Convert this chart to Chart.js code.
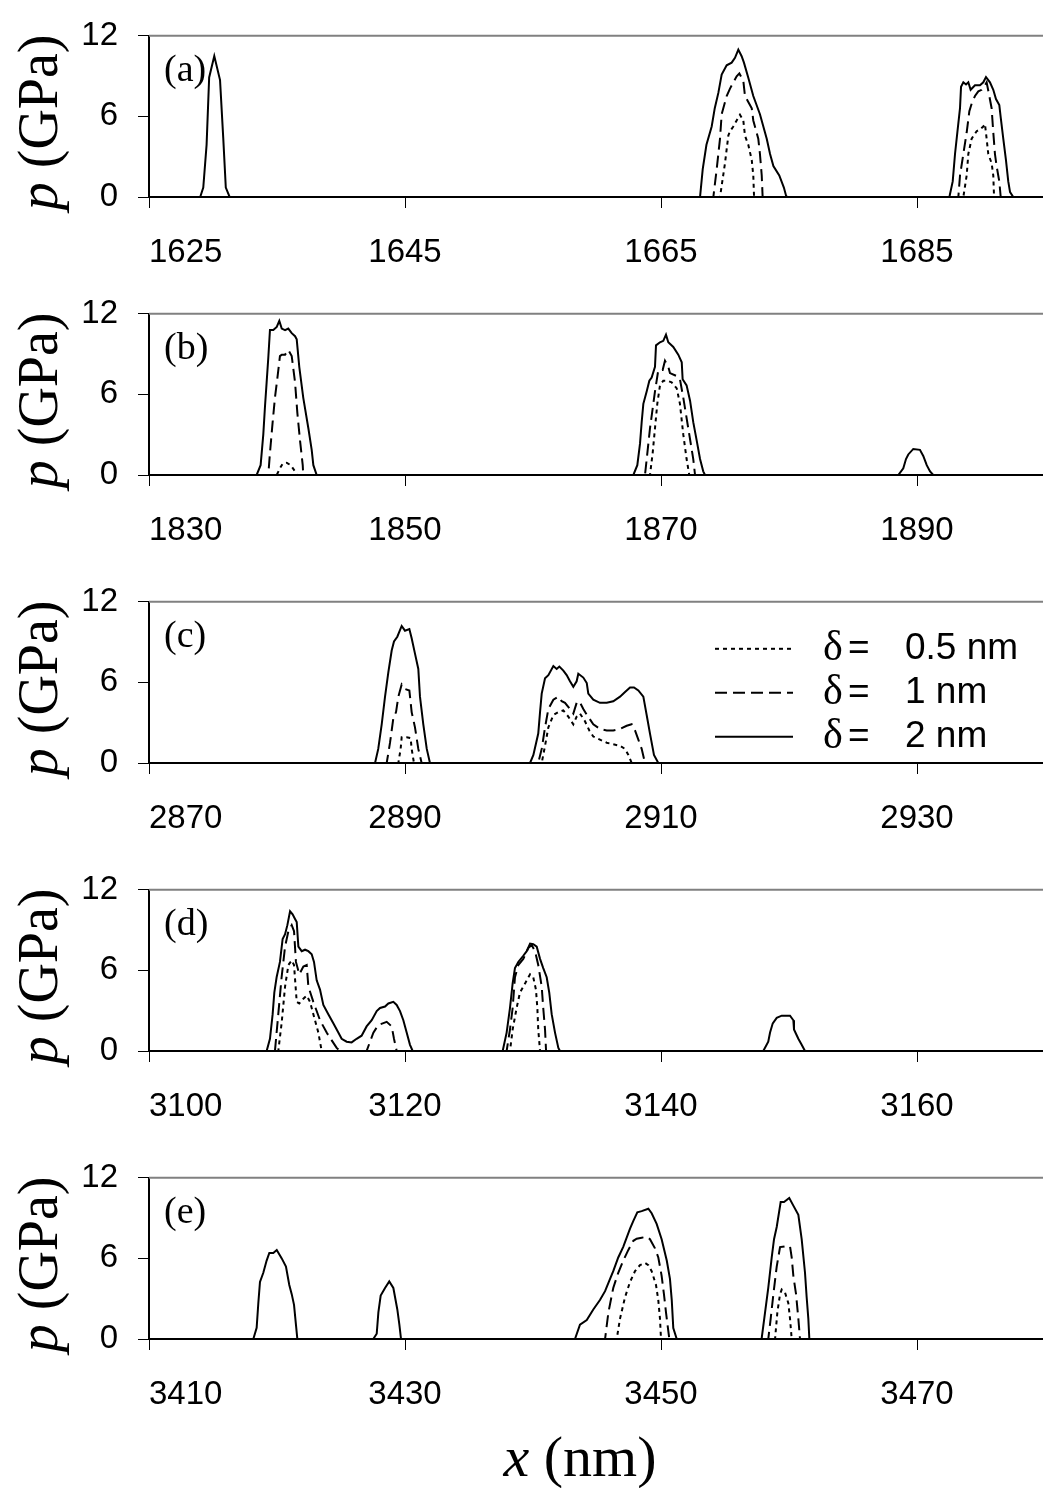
<!DOCTYPE html>
<html>
<head>
<meta charset="utf-8">
<script src="https://cdn.jsdelivr.net/npm/chart.js@4.4.1/dist/chart.umd.min.js"></script>
<style>
    html, body { margin: 0; padding: 0; background: #fff; }
    body { width: 1043px; height: 1488px; position: relative; overflow: hidden; }
    canvas.painel { position: absolute; left: 0; }
    #tituloX {
        position: absolute; left: 380px; width: 400px; top: 1428px; text-align: center;
        font: 58px/58px "Liberation Serif", "Times New Roman", serif; color: #000;
    }
</style>
</head>
<body>
<canvas id="graficoA" class="painel"></canvas>
<canvas id="graficoB" class="painel"></canvas>
<canvas id="graficoC" class="painel"></canvas>
<canvas id="graficoD" class="painel"></canvas>
<canvas id="graficoE" class="painel"></canvas>
<div id="tituloX"><i>x</i> (nm)</div>
<script>
// Perfis de pressão p(x) em cinco janelas de x, para três valores de delta.

// --- Dados ---
const ticksY = [0, 6, 12];
const rotulosDelta = ['0.5 nm', '1 nm', '2 nm'];

// (a)
const ticksA = [1625, 1645, 1665, 1685];
const xA_05 = [1625, 1669.61, 1670.0, 1670.26, 1670.39, 1670.65, 1670.91, 1671.17, 1671.43, 1671.56, 1671.82, 1672.09, 1672.21, 1672.27,
    1688.62, 1688.88, 1689.01, 1689.27, 1689.66, 1689.92, 1690.18, 1690.31, 1690.44, 1690.57, 1690.83, 1690.96, 1691.02, 1695];
const pA_05 = [0, 0, 2.52, 4.57, 4.9, 5.25, 5.7, 6.12, 5.7, 4.57, 3.89, 2.75, 1.6, 0,
    0, 1.6, 3.2, 4.34, 4.9, 5.02, 5.25, 5.43, 4.34, 3.2, 2.52, 1.6, 0, 0];
const xA_1 = [1625, 1669.09, 1669.35, 1669.61, 1669.74, 1670.13, 1670.39, 1670.65, 1670.91, 1671.12, 1671.43, 1671.56, 1671.82, 1672.09, 1672.21, 1672.6, 1672.73, 1672.87, 1672.94,
    1688.23, 1688.36, 1688.62, 1688.88, 1689.09, 1689.27, 1689.53, 1689.79, 1690.05, 1690.31, 1690.44, 1690.65, 1690.83, 1690.96, 1691.09, 1691.22, 1691.43, 1691.54, 1695];
const pA_1 = [0, 0, 2.07, 4.34, 6.16, 7.52, 8.07, 8.52, 8.98, 9.2, 8.66, 7.52, 7.07, 6.61, 5.7, 4.34, 3.2, 1.6, 0,
    0, 1.6, 3.2, 4.8, 6.39, 6.95, 7.52, 7.86, 7.98, 8.32, 8.54, 7.52, 6.61, 4.8, 3.2, 2.3, 1.16, 0, 0];
const xA_2 = [1625, 1629.0, 1629.24, 1629.5, 1629.7, 1630.1, 1630.55, 1630.8, 1631.0, 1631.3,
    1668.05, 1668.26, 1668.55, 1668.96, 1669.2, 1669.48, 1669.74, 1670.13, 1670.52, 1670.78, 1671.04, 1671.3, 1671.48, 1671.82, 1672.21, 1672.73, 1673.26, 1673.52, 1673.78, 1674.24, 1674.6, 1674.77, 1674.85,
    1687.53, 1687.79, 1687.97, 1688.15, 1688.36, 1688.44, 1688.62, 1688.83, 1689.01, 1689.19, 1689.53, 1689.92, 1690.18, 1690.39, 1690.7, 1690.96, 1691.17, 1691.43, 1691.54, 1691.74, 1691.95, 1692.13, 1692.27, 1692.52, 1695];
const pA_2 = [0, 0, 0.7, 3.9, 8.9, 10.5, 8.7, 4.4, 0.7, 0,
    0, 2.07, 3.89, 5.25, 6.61, 7.75, 9.11, 9.8, 10.0, 10.36, 10.97, 10.48, 10.0, 8.88, 7.52, 6.16, 4.34, 3.2, 2.3, 1.6, 0.7, 0.1, 0,
    0, 1.16, 3.2, 4.8, 6.61, 8.2, 8.54, 8.38, 8.54, 7.98, 8.32, 8.32, 8.54, 8.93, 8.54, 7.98, 7.29, 6.84, 5.93, 4.34, 2.75, 1.16, 0.36, 0, 0];

// (b)
const ticksB = [1830, 1850, 1870, 1890];
const xB_05 = [1830, 1839.98, 1840.23, 1840.44, 1840.76, 1841.07, 1841.41, 1841.54,
    1869.14, 1869.35, 1869.53, 1869.71, 1869.92, 1870.18, 1870.49, 1870.83, 1871.23, 1871.48, 1871.74, 1872.0, 1872.21, 1900];
const pB_05 = [0, 0, 0.5, 0.84, 0.91, 0.73, 0.27, 0,
    0, 1.65, 3.48, 5.3, 6.67, 7.02, 7.02, 6.9, 6.45, 5.3, 3.02, 1.19, 0, 0];
const xB_1 = [1830, 1839.32, 1839.45, 1839.66, 1839.84, 1840.02, 1840.23, 1840.37, 1840.63, 1840.88, 1841.15, 1841.41, 1841.59, 1841.8, 1842.01, 1842.05,
    1868.75, 1869.14, 1869.53, 1869.79, 1870.13, 1870.31, 1870.57, 1870.7, 1871.23, 1871.48, 1871.74, 1872.13, 1872.52, 1872.66, 1900];
const pB_1 = [0, 0, 1.65, 3.93, 5.76, 7.13, 8.85, 8.96, 8.96, 9.31, 8.85, 6.9, 4.62, 2.56, 0.73, 0,
    0, 3.48, 6.22, 7.82, 7.82, 8.5, 8.05, 7.59, 7.36, 7.13, 5.76, 3.48, 1.19, 0, 0];
const xB_2 = [1830, 1838.41, 1838.72, 1838.93, 1839.06, 1839.19, 1839.32, 1839.45, 1839.71, 1839.98, 1840.18, 1840.37, 1840.63, 1840.88, 1841.15, 1841.41, 1841.54, 1841.74, 1842.05, 1842.45, 1842.71, 1842.84, 1843.1,
    1867.84, 1868.15, 1868.36, 1868.49, 1868.62, 1868.88, 1869.09, 1869.27, 1869.53, 1869.61, 1869.92, 1870.18, 1870.39, 1870.57, 1870.96, 1871.35, 1871.62, 1871.69, 1872.0, 1872.27, 1872.52, 1872.79, 1873.05, 1873.3, 1873.44,
    1888.54, 1888.93, 1889.14, 1889.32, 1889.71, 1890.23, 1890.49, 1890.76, 1891.02, 1891.27, 1900];
const pB_2 = [0, 0, 0.73, 3.02, 5.08, 6.9, 8.73, 10.79, 10.79, 11.02, 11.47, 10.9, 10.79, 10.9, 10.56, 10.33, 10.1, 8.05, 5.76, 3.48, 1.87, 0.73, 0,
    0, 0.73, 2.33, 3.93, 5.3, 6.22, 7.02, 7.25, 8.05, 9.65, 9.88, 9.99, 10.45, 9.88, 9.53, 8.96, 8.39, 7.13, 6.67, 5.53, 3.93, 2.56, 1.19, 0.27, 0,
    0, 0.5, 1.19, 1.53, 1.94, 1.87, 1.42, 0.73, 0.27, 0, 0];

// (c)
const ticksC = [2870, 2890, 2910, 2930];
const xC_05 = [2870, 2889.48, 2889.66, 2889.74, 2890.13, 2890.44, 2890.52, 2890.7,
    2900.68, 2900.94, 2901.2, 2901.59, 2901.98, 2902.37, 2902.76, 2903.15, 2903.41, 2903.67, 2904.06, 2904.4, 2904.71, 2905.23, 2905.76, 2906.27, 2906.8, 2907.19, 2907.45, 2907.71, 2940];
const pC_05 = [0, 0, 1.05, 1.92, 1.92, 1.85, 1.05, 0,
    0, 1.28, 2.65, 3.57, 3.79, 3.91, 3.45, 2.88, 3.45, 3.68, 3.11, 2.42, 1.97, 1.74, 1.51, 1.39, 1.28, 1.05, 0.6, 0, 0];
const xC_1 = [2870, 2888.57, 2888.83, 2889.09, 2889.3, 2889.48, 2889.74, 2890.0, 2890.34, 2890.52, 2890.78, 2891.04, 2891.3,
    2900.41, 2900.68, 2900.94, 2901.2, 2901.59, 2901.98, 2902.24, 2902.5, 2902.89, 2903.15, 2903.41, 2903.62, 2903.93, 2904.2, 2904.71, 2905.23, 2905.76, 2906.27, 2906.8, 2907.32, 2907.71, 2907.97, 2908.23, 2908.49, 2908.75, 2940];
const pC_1 = [0, 0, 1.51, 3.34, 3.79, 4.94, 5.85, 5.51, 5.4, 3.79, 2.65, 1.05, 0,
    0, 1.05, 2.65, 4.02, 4.71, 4.94, 4.6, 4.48, 4.02, 3.68, 4.48, 4.6, 4.02, 3.6, 2.88, 2.54, 2.42, 2.42, 2.54, 2.77, 2.88, 2.42, 1.74, 1.05, 0, 0];
const xC_2 = [2870, 2887.66, 2887.91, 2888.18, 2888.44, 2888.7, 2888.96, 2889.14, 2889.4, 2889.74, 2890.0, 2890.34, 2890.52, 2890.78, 2891.04, 2891.17, 2891.43, 2891.7, 2891.95,
    2899.77, 2900.03, 2900.41, 2900.55, 2900.68, 2900.94, 2901.2, 2901.59, 2901.85, 2902.06, 2902.37, 2902.63, 2902.89, 2903.15, 2903.41, 2903.54, 2903.93, 2904.2, 2904.32, 2904.71, 2905.23, 2905.76, 2906.27, 2906.8, 2907.19, 2907.58, 2907.89, 2908.23, 2908.62, 2908.88, 2909.14, 2909.45, 2909.79, 2940];
const pC_2 = [0, 0, 1.05, 2.88, 4.94, 6.77, 8.37, 9.05, 9.4, 10.2, 9.85, 9.97, 9.28, 8.14, 7.0, 4.94, 2.88, 1.05, 0,
    0, 0.6, 2.19, 3.79, 5.17, 6.31, 6.54, 7.22, 7.0, 7.18, 6.88, 6.54, 6.08, 5.67, 6.08, 6.65, 6.36, 5.95, 5.17, 4.71, 4.48, 4.48, 4.6, 4.94, 5.28, 5.62, 5.62, 5.4, 4.94, 3.57, 2.19, 0.6, 0, 0];

// (d)
const ticksD = [3100, 3120, 3140, 3160];
const xD_05 = [3100, 3110.1, 3110.36, 3110.63, 3110.89, 3111.15, 3111.33, 3111.54, 3111.74, 3112.06, 3112.32, 3112.58, 3112.84, 3113.23, 3113.49,
    3128.2, 3128.41, 3128.72, 3128.98, 3129.38, 3129.77, 3130.02, 3130.23, 3130.34, 3130.41, 3130.55, 3170];
const pD_05 = [0, 0, 2.06, 4.8, 6.4, 6.74, 6.4, 3.66, 3.54, 3.89, 4.12, 3.66, 2.74, 1.37, 0,
    0, 1.6, 3.2, 4.34, 5.03, 5.71, 5.49, 4.57, 3.2, 1.6, 0, 0];
const xD_1 = [3100, 3109.84, 3110.1, 3110.36, 3110.63, 3110.89, 3111.15, 3111.33, 3111.48, 3111.74, 3112.06, 3112.32, 3112.45, 3112.84, 3113.36, 3113.88, 3114.66, 3114.92,
    3117.0, 3117.53, 3117.92, 3118.57, 3118.96, 3119.14, 3119.35,
    3127.94, 3128.2, 3128.41, 3128.59, 3128.85, 3129.24, 3129.63, 3129.9, 3130.16, 3130.41, 3130.68, 3130.8, 3130.94, 3131.02, 3170];
const pD_1 = [0, 0, 2.74, 5.49, 7.77, 8.92, 9.37, 8.92, 6.63, 5.71, 6.29, 6.4, 4.8, 3.66, 2.29, 1.37, 0.23, 0,
    0, 1.37, 1.94, 2.17, 1.83, 0.91, 0,
    0, 1.6, 3.2, 5.49, 6.4, 6.86, 7.66, 7.89, 7.43, 6.4, 4.8, 3.2, 1.6, 0, 0];
const xD_2 = [3100, 3109.19, 3109.45, 3109.66, 3109.79, 3109.97, 3110.23, 3110.44, 3110.63, 3110.81, 3111.02, 3111.22, 3111.41, 3111.54, 3111.67, 3111.93, 3112.19, 3112.45, 3112.71, 3112.89,
    3113.1, 3113.36, 3113.62, 3114.01, 3114.4, 3114.79, 3115.05, 3115.44, 3115.83, 3116.22, 3116.61, 3117.0, 3117.4, 3117.79, 3118.05, 3118.44, 3118.7, 3119.09, 3119.35, 3119.61, 3119.87, 3120.13, 3120.39, 3120.6,
    3127.63, 3127.94, 3128.2, 3128.41, 3128.59, 3128.85, 3129.24, 3129.51, 3129.77, 3130.02, 3130.29, 3130.55, 3130.8, 3131.07, 3131.27, 3131.46, 3131.72, 3131.98, 3132.11,
    3147.99, 3148.38, 3148.52, 3148.73, 3149.04, 3149.43, 3150.08, 3150.34, 3150.39, 3150.73, 3150.99, 3151.25, 3170];
const pD_2 = [0, 0, 0.91, 2.74, 4.34, 5.49, 6.63, 8.34, 8.69, 9.37, 10.4, 10.17, 9.83, 9.6, 7.77, 7.43, 7.54, 7.43, 7.2, 6.63,
    5.26, 4.57, 3.43, 2.74, 2.06, 1.37, 0.91, 0.69, 0.64, 0.91, 1.14, 1.83, 2.29, 2.97, 3.2, 3.31, 3.54, 3.66, 3.43, 2.97, 2.29, 1.37, 0.46, 0,
    0, 1.37, 3.2, 5.03, 6.17, 6.63, 7.09, 7.43, 8.0, 7.95, 7.77, 6.86, 6.17, 5.49, 4.34, 2.74, 1.37, 0.23, 0,
    0, 0.69, 1.37, 2.06, 2.47, 2.63, 2.63, 2.29, 1.6, 0.91, 0.46, 0, 0];

// (e)
const ticksE = [3410, 3430, 3450, 3470];
const xE_05 = [3410, 3446.54, 3446.8, 3447.19, 3447.58, 3447.97, 3448.36, 3448.75, 3449.01, 3449.27, 3449.61, 3449.79, 3449.92, 3450.0,
    3458.91, 3459.09, 3459.3, 3459.43, 3459.69, 3459.95, 3460.08, 3460.21, 3480];
const pE_05 = [0, 0, 1.52, 3.11, 4.25, 5.05, 5.5, 5.66, 5.5, 5.05, 4.02, 2.88, 1.52, 0,
    0, 1.98, 3.34, 3.68, 3.45, 2.66, 1.52, 0, 0];
const xE_1 = [3410, 3445.63, 3445.89, 3446.27, 3446.66, 3447.05, 3447.45, 3447.84, 3448.1, 3448.49, 3448.88, 3449.14, 3449.53, 3449.79, 3450.05, 3450.23, 3450.39, 3450.57, 3450.65,
    3458.38, 3458.57, 3458.78, 3459.04, 3459.3, 3459.69, 3460.08, 3460.21, 3460.34, 3460.55, 3460.73, 3460.86, 3480];
const pE_1 = [0, 0, 1.98, 3.8, 4.93, 5.84, 6.63, 7.31, 7.47, 7.54, 7.61, 7.43, 6.75, 6.07, 4.7, 3.34, 1.98, 0.61, 0,
    0, 1.52, 3.34, 5.39, 6.84, 6.9, 6.9, 6.07, 4.7, 3.34, 1.52, 0, 0];
const xE_2 = [3410, 3418.15, 3418.41, 3418.54, 3418.67, 3418.93, 3419.19, 3419.4, 3419.71, 3419.98, 3420.37, 3420.7, 3420.96, 3421.15, 3421.33, 3421.48, 3421.59,
    3427.52, 3427.79, 3427.92, 3428.1, 3428.44, 3428.77, 3429.09, 3429.4, 3429.56, 3429.69,
    3443.28, 3443.67, 3444.2, 3444.71, 3445.23, 3445.63, 3446.02, 3446.27, 3446.66, 3447.05, 3447.58, 3447.84, 3448.15, 3448.49, 3449.01, 3449.27, 3449.66, 3450.05, 3450.45, 3450.7, 3450.84, 3450.96, 3451.23,
    3457.86, 3458.13, 3458.38, 3458.65, 3458.83, 3459.04, 3459.35, 3459.61, 3460.02, 3460.34, 3460.73, 3460.99, 3461.25, 3461.38, 3461.51, 3461.59, 3480];
const pE_2 = [0, 0, 0.84, 2.66, 4.25, 4.93, 5.84, 6.41, 6.41, 6.63, 6.0, 5.39, 4.02, 3.34, 2.54, 1.07, 0,
    0, 0.39, 1.98, 3.23, 3.8, 4.29, 3.8, 2.2, 1.07, 0,
    0, 1.07, 1.41, 2.2, 2.9, 3.56, 4.48, 5.05, 6.07, 6.86, 8.22, 8.8, 9.43, 9.52, 9.7, 9.36, 8.57, 7.43, 5.84, 4.48, 2.9, 0.82, 0,
    0, 1.98, 3.8, 6.07, 7.43, 8.34, 10.2, 10.2, 10.5, 9.93, 9.25, 7.43, 4.93, 3.11, 1.52, 0, 0];

// --- Constantes de layout e estilo ---
const LARGURA_X = 70;          // cada janela cobre 70 nm
const LARGURA_CANVAS = 1070;   // a borda direita do gráfico fica fora da página, como no original
const PAD_TOPO = 25;
const ALTURA_PLOT = 176;
const ALTURA_EIXO_X = 75;
const LARGURA_EIXO_Y = 149;
const FONTE_NUM = { family: '"Liberation Sans", Arial, sans-serif', size: 33 };
const SERIF = '"Liberation Serif", "Times New Roman", serif';

// estilo de linha por delta: pontilhado, tracejado, cheio
const ESTILOS = [
    { traco: [4, 4], largura: 2 },
    { traco: [12, 6], largura: 2 },
    { traco: [], largura: 2 }
];

const PAINEIS = [
    { id: 'graficoA', letra: '(a)', topo: 21, ticks: ticksA, series: [[xA_05, pA_05], [xA_1, pA_1], [xA_2, pA_2]] },
    { id: 'graficoB', letra: '(b)', topo: 299, ticks: ticksB, series: [[xB_05, pB_05], [xB_1, pB_1], [xB_2, pB_2]] },
    { id: 'graficoC', letra: '(c)', topo: 587, ticks: ticksC, series: [[xC_05, pC_05], [xC_1, pC_1], [xC_2, pC_2]], legenda: true },
    { id: 'graficoD', letra: '(d)', topo: 875, ticks: ticksD, series: [[xD_05, pD_05], [xD_1, pD_1], [xD_2, pD_2]] },
    { id: 'graficoE', letra: '(e)', topo: 1163, ticks: ticksE, series: [[xE_05, pE_05], [xE_1, pE_1], [xE_2, pE_2]] }
];

// --- Funções auxiliares ---
const montarPontos = (xs, ps) => xs.map((x, i) => ({ x: x, y: ps[i] }));

function desenharLegenda(chart) {
    const { ctx, chartArea: area } = chart;
    chart.data.datasets.forEach((ds, i) => {
        const y = area.top + 47 + i * 44;
        ctx.save();
        ctx.strokeStyle = '#000';
        ctx.lineWidth = 2;
        ctx.setLineDash(ds.borderDash || []);
        ctx.beginPath();
        ctx.moveTo(715, y);
        ctx.lineTo(793, y);
        ctx.stroke();
        ctx.restore();

        ctx.fillStyle = '#000';
        ctx.textAlign = 'left';
        ctx.textBaseline = 'middle';
        ctx.font = '42px ' + SERIF;
        ctx.fillText('δ', 823, y);
        ctx.font = '37px "Liberation Sans", Arial, sans-serif';
        ctx.fillText('=', 848, y);
        ctx.fillText(ds.label, 905, y);
    });
}

// linha cinza do topo, letra do painel, título do eixo y e legenda
const decoracaoPainel = {
    id: 'decoracao',
    afterDraw(chart, args, opcoes) {
        const { ctx, chartArea: area } = chart;
        ctx.save();
        ctx.strokeStyle = '#808080';
        ctx.lineWidth = 2;
        ctx.beginPath();
        ctx.moveTo(area.left, area.top);
        ctx.lineTo(area.right, area.top);
        ctx.stroke();

        ctx.fillStyle = '#000';
        ctx.font = '38px ' + SERIF;
        ctx.textAlign = 'left';
        ctx.textBaseline = 'middle';
        ctx.fillText(opcoes.letra, area.left + 15, area.top + 35);

        // "p (GPa)" girado, com p em itálico
        ctx.save();
        ctx.translate(57, (area.top + area.bottom) / 2 + 6);
        ctx.rotate(-Math.PI / 2);
        ctx.textBaseline = 'alphabetic';
        const fonteItalica = 'italic 56px ' + SERIF;
        const fonteReta = '56px ' + SERIF;
        ctx.font = fonteItalica;
        const larguraP = ctx.measureText('p').width;
        ctx.font = fonteReta;
        const larguraResto = ctx.measureText(' (GPa)').width;
        const x0 = -(larguraP + larguraResto) / 2;
        ctx.font = fonteItalica;
        ctx.fillText('p', x0, 0);
        ctx.font = fonteReta;
        ctx.fillText(' (GPa)', x0 + larguraP, 0);
        ctx.restore();

        if (opcoes.legenda) desenharLegenda(chart);
        ctx.restore();
    }
};

// --- Renderização ---
function criarGrafico(painel) {
    const canvas = document.getElementById(painel.id);
    canvas.width = LARGURA_CANVAS;
    canvas.height = PAD_TOPO + ALTURA_PLOT + ALTURA_EIXO_X;
    canvas.style.top = (painel.topo - PAD_TOPO) + 'px';

    const xMin = painel.ticks[0];
    const xMax = xMin + LARGURA_X;

    return new Chart(canvas.getContext('2d'), {
        type: 'line',
        data: {
            datasets: painel.series.map(([xs, ps], i) => ({
                label: rotulosDelta[i],
                data: montarPontos(xs, ps),
                borderColor: '#000',
                borderWidth: ESTILOS[i].largura,
                borderDash: ESTILOS[i].traco,
                pointRadius: 0,
                tension: 0,
                fill: false
            }))
        },
        options: {
            responsive: false,
            animation: false,
            devicePixelRatio: 1,
            layout: { padding: { top: PAD_TOPO, right: 0, left: 0, bottom: 0 } },
            plugins: {
                legend: { display: false },
                tooltip: { enabled: false },
                decoracao: { letra: painel.letra, legenda: !!painel.legenda }
            },
            scales: {
                x: {
                    type: 'linear',
                    min: xMin,
                    max: xMax,
                    afterBuildTicks: (escala) => {
                        escala.ticks = painel.ticks.concat([xMax]).map(v => ({ value: v }));
                    },
                    afterFit: (escala) => { escala.height = ALTURA_EIXO_X; },
                    ticks: {
                        align: 'inner',
                        autoSkip: false,
                        maxRotation: 0,
                        padding: 25,
                        color: '#000',
                        font: FONTE_NUM,
                        callback: (v) => painel.ticks.includes(v) ? String(v) : ''
                    },
                    grid: {
                        drawOnChartArea: false,
                        tickLength: 11,
                        color: '#000',
                        tickColor: (ctx) => ctx.index < painel.ticks.length ? '#000' : 'rgba(0,0,0,0)'
                    },
                    border: { color: '#000', width: 2 }
                },
                y: {
                    min: 0,
                    max: 12,
                    afterBuildTicks: (escala) => { escala.ticks = ticksY.map(v => ({ value: v })); },
                    afterFit: (escala) => { escala.width = LARGURA_EIXO_Y; },
                    ticks: { padding: 20, color: '#000', font: FONTE_NUM },
                    grid: { drawOnChartArea: false, tickLength: 11, color: '#000' },
                    border: { color: '#000', width: 2 }
                }
            }
        },
        plugins: [decoracaoPainel]
    });
}

document.addEventListener('DOMContentLoaded', () => {
    PAINEIS.forEach(criarGrafico);
});
</script>
</body>
</html>
